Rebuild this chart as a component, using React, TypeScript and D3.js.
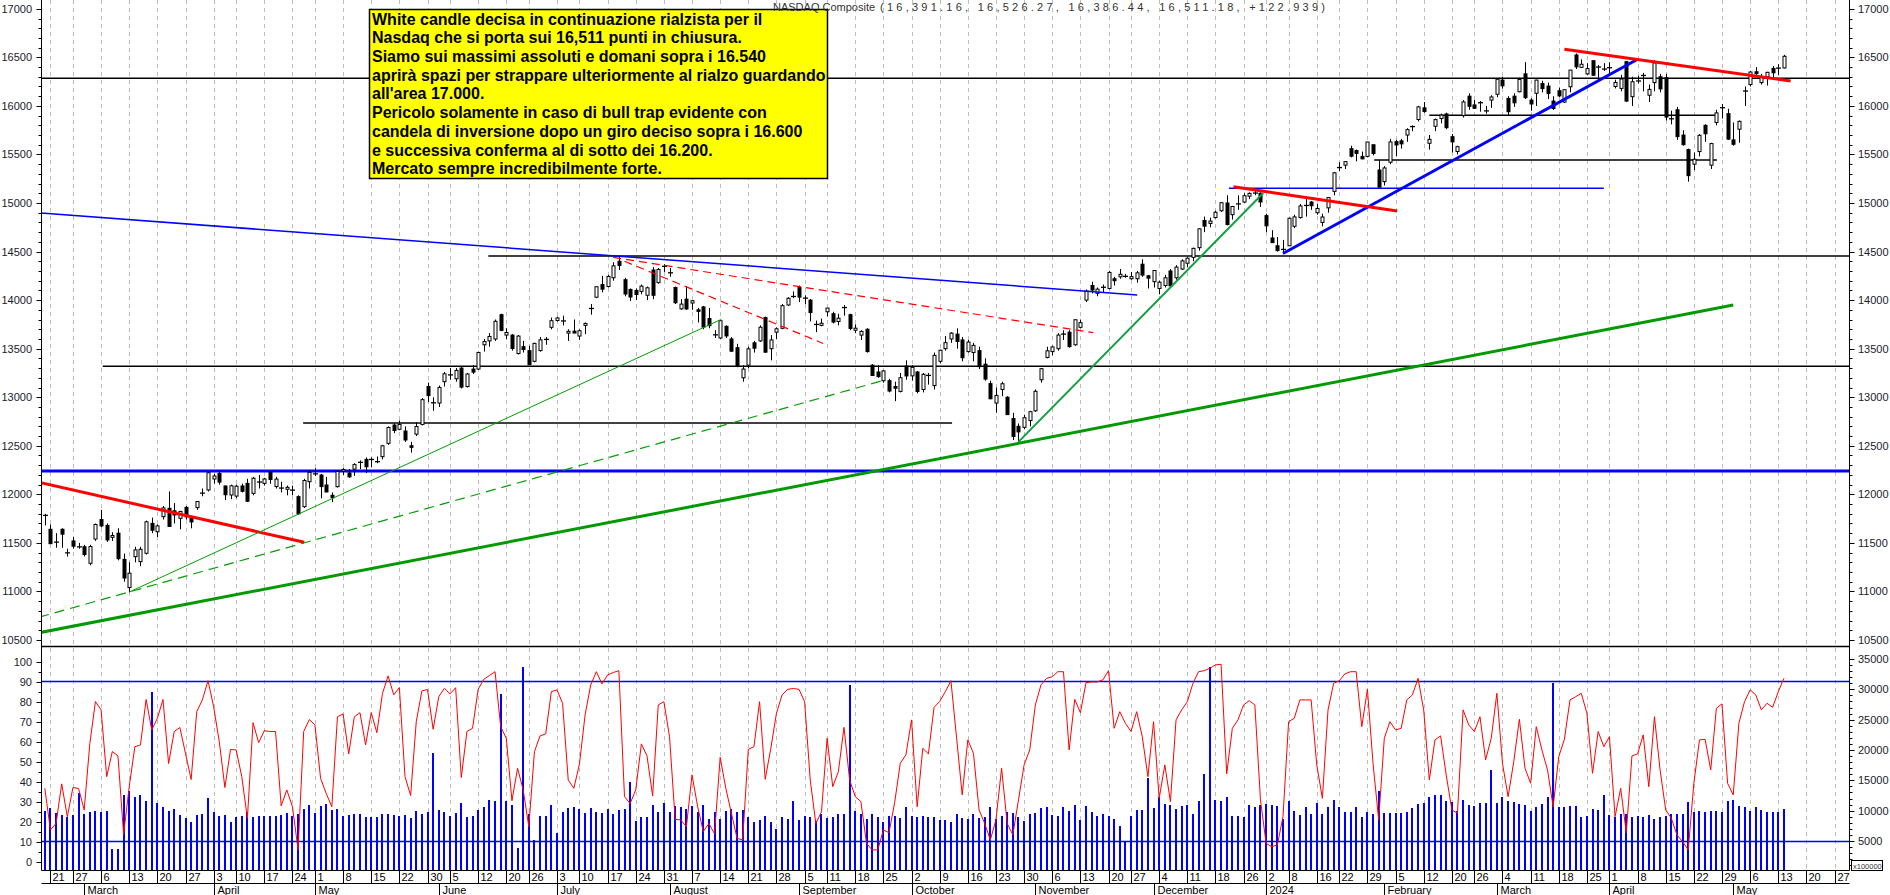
import React from 'react';
import * as d3 from 'd3';

// trading calendar
const firstDay = '2023-02-17';
const axisEndDay = '2024-05-31';
const holidays = ['2023-02-20', '2023-04-07', '2023-05-29', '2023-06-19', '2023-07-04', '2023-09-04',
  '2023-11-23', '2023-12-25', '2024-01-01', '2024-01-15', '2024-02-19', '2024-03-29'];
const missingDays = ['2023-04-26'];

// daily [open, high, low, close]
const feb23 = [
  [11780,11800,11680,11787],[11640,11690,11490,11492],[11510,11600,11450,11507],[11640,11650,11450,11590],
  [11400,11440,11360,11395],[11520,11560,11440,11466],[11460,11500,11440,11456]];
const mar23 = [
  [11460,11480,11360,11380],[11290,11480,11270,11462],[11540,11700,11520,11689],[11740,11840,11660,11675],
  [11680,11700,11510,11530],[11557,11610,11520,11576],[11600,11650,11320,11338],[11330,11390,11100,11138],
  [11040,11300,10990,11188],[11358,11460,11300,11428],[11307,11460,11260,11434],[11393,11730,11380,11717],
  [11701,11760,11600,11630],[11615,11690,11560,11675],[11770,11880,11740,11860],[11856,12030,11670,11670],
  [11830,11910,11700,11787],[11753,11830,11640,11824],[11866,11880,11740,11768],[11753,11760,11650,11716],
  [11863,11930,11840,11926],[12010,12060,11980,12013],[12045,12230,12030,12222]];
const apr23 = [
  [12158,12210,12110,12189],[12216,12240,12100,12126],[12086,12090,11940,11996],[11993,12100,11950,12088],
  [11982,12100,11960,12084],[12086,12110,12020,12031],[12113,12160,11920,11929],[12010,12180,11990,12166],
  [12130,12200,12060,12123],[12113,12170,12090,12158],[12233,12240,12110,12153],[12080,12180,12060,12157],
  [12070,12130,12020,12059],[12052,12090,11990,12072],[12050,12090,11990,12037],[11976,11990,11790,11799],
  [11873,12160,11860,12142],[12130,12250,12060,12227]];
const may23 = [
  [12210,12270,12190,12212],[12199,12210,11960,12080],[12096,12180,12020,12025],[11990,12020,11920,11966],
  [12079,12250,12070,12235],[12240,12270,12200,12256],[12220,12260,12170,12180],[12260,12320,12190,12306],
  [12330,12350,12260,12329],[12360,12380,12220,12284],[12353,12380,12280,12365],[12330,12390,12320,12343],
  [12388,12510,12360,12500],[12525,12700,12510,12688],[12714,12730,12630,12657],[12670,12760,12660,12720],
  [12652,12700,12540,12560],[12500,12540,12430,12484],[12620,12740,12600,12698],[12720,12990,12710,12975],
  [13110,13150,12950,13017],[12950,13000,12860,12935]];
const jun23 = [
  [12940,13120,12900,13101],[13160,13260,13110,13241],[13230,13300,13180,13230],[13190,13300,13160,13276],
  [13300,13310,13090,13104],[13110,13250,13100,13239],[13290,13330,13240,13259],[13290,13470,13280,13461],
  [13540,13600,13470,13573],[13580,13660,13520,13626],[13600,13800,13580,13782],[13850,13860,13680,13689],
  [13640,13710,13600,13667],[13640,13650,13480,13502],[13450,13640,13440,13630],[13520,13580,13460,13492],
  [13480,13530,13330,13335],[13370,13560,13360,13555],[13480,13620,13470,13591],[13600,13620,13540,13591],
  [13720,13820,13700,13788]];
const jul23 = [
  [13790,13830,13780,13816],[13780,13840,13740,13791],[13660,13700,13580,13679],[13680,13800,13660,13661],
  [13630,13700,13590,13685],[13740,13770,13650,13760],[13910,13960,13850,13918],[14030,14140,14020,14138],
  [14160,14250,14080,14113],[14140,14260,14130,14244],[14230,14390,14200,14353],[14400,14450,14310,14358],
  [14210,14230,14040,14063],[14110,14120,13990,14032],[14100,14120,14000,14058],[14090,14160,14060,14144],
  [14050,14140,14000,14127],[14310,14340,14010,14050],[14180,14330,14170,14316],[14350,14370,14290,14346]];
const aug23 = [
  [14280,14330,14240,14283],[14130,14140,13960,13973],[13910,14010,13900,13959],[14010,14140,13900,13909],
  [13970,14000,13900,13994],[13900,13920,13770,13884],[13930,13940,13700,13722],[13810,13920,13710,13737],
  [13640,13690,13610,13645],[13610,13790,13600,13788],[13730,13740,13610,13631],[13600,13620,13470,13474],
  [13510,13550,13310,13316],[13200,13330,13160,13290],[13330,13520,13300,13498],[13560,13580,13460,13505],
  [13580,13740,13570,13721],[13820,13830,13460,13464],[13500,13640,13380,13590],[13670,13720,13600,13705],
  [13710,13960,13700,13943],[13950,14030,13940,14019],[14040,14090,14020,14035]];
const sep23 = [
  [14130,14150,13980,14031],[14020,14050,13960,14021],[14000,14010,13780,13872],[13750,13790,13670,13749],
  [13740,13810,13730,13762],[13880,13920,13830,13918],[13860,13880,13760,13774],[13780,13860,13740,13814],
  [13920,13950,13840,13927],[13850,13860,13690,13709],[13690,13750,13660,13711],[13640,13690,13590,13678],
  [13700,13710,13460,13470],[13330,13340,13220,13224],[13260,13330,13200,13212],[13170,13280,13150,13271],
  [13170,13190,13050,13064],[13110,13160,12960,13093],[13060,13250,13050,13201],[13320,13380,13180,13219]];
const oct23 = [
  [13220,13330,13170,13308],[13260,13270,13040,13059],[13080,13250,13050,13236],[13230,13250,13130,13219],
  [13120,13460,13080,13431],[13370,13490,13350,13484],[13500,13630,13480,13562],[13600,13670,13560,13660],
  [13650,13710,13500,13575],[13590,13620,13370,13407],[13470,13590,13460,13568],[13460,13560,13370,13534],
  [13480,13520,13290,13315],[13340,13400,13170,13187],[13140,13170,12980,12984],[12940,13100,12840,13019],
  [13080,13160,13010,13139],[13000,13010,12820,12821],[12780,12840,12560,12596],[12700,12730,12540,12643],
  [12690,12820,12670,12789],[12760,12860,12700,12851]];
const nov23 = [
  [12860,13080,12850,13061],[13180,13300,13150,13294],[13410,13520,13400,13478],[13470,13530,13430,13518],
  [13500,13660,13480,13640],[13650,13690,13590,13650],[13670,13690,13510,13521],[13540,13800,13530,13798],
  [13720,13800,13710,13768],[14000,14110,13980,14094],[14150,14190,14070,14104],[14070,14130,14040,14113],
  [14140,14160,14080,14125],[14120,14300,14110,14285],[14220,14240,14150,14200],[14240,14320,14220,14266],
  [14240,14270,14230,14250],[14220,14290,14210,14242],[14220,14300,14180,14281],[14370,14420,14240,14258],
  [14250,14260,14120,14226]];
const dec23 = [
  [14190,14310,14130,14305],[14120,14200,14060,14185],[14150,14260,14130,14230],[14300,14320,14140,14147],
  [14230,14360,14210,14340],[14320,14420,14310,14404],[14380,14440,14340,14432],[14440,14540,14400,14533],
  [14540,14740,14510,14734],[14820,14860,14700,14762],[14790,14850,14750,14814],[14850,14920,14840,14905],
  [14920,15010,14910,15003],[15000,15080,14770,14778],[14880,14970,14830,14964],[14990,15080,14930,14992],
  [15010,15100,15000,15075],[15070,15110,15040,15099],[15110,15150,15080,15095],[15100,15110,14960,15011]];
const jan24 = [
  [14870,14890,14700,14765],[14640,14720,14590,14592],[14560,14650,14500,14510],[14520,14620,14480,14524],
  [14560,14850,14560,14843],[14760,14880,14740,14857],[14850,14990,14840,14970],[14980,15050,14860,14970],
  [15010,15020,14930,14972],[14900,14990,14880,14944],[14800,14890,14760,14856],[14950,15060,14900,15056],
  [15120,15320,15080,15311],[15370,15420,15330,15360],[15390,15430,15350,15426],[15560,15590,15470,15482],
  [15540,15550,15430,15511],[15480,15530,15450,15455],[15480,15630,15470,15628],[15600,15600,15490,15510],
  [15340,15440,15160,15164]];
const feb24 = [
  [15220,15380,15180,15361],[15420,15660,15400,15629],[15632,15650,15480,15598],[15640,15660,15560,15609],
  [15700,15770,15630,15756],[15780,15800,15740,15794],[15860,16000,15840,15990],[15980,16040,15930,15942],
  [15615,15700,15550,15656],[15790,15870,15740,15859],[15870,15920,15820,15906],[15917,15930,15760,15776],
  [15683,15710,15520,15630],[15530,15590,15500,15580],[15900,16060,15880,16041],[16100,16130,15960,15996],
  [16010,16060,15970,15976],[16030,16050,15940,16035],[15950,16000,15920,15948],[16060,16110,15980,16092]];
const mar24 = [
  [16120,16280,16090,16275],[16266,16300,16180,16207],[16077,16100,15900,15940],[16100,16130,15990,16032],
  [16146,16290,16140,16273],[16330,16450,16070,16085],[16060,16080,15950,16020],[16130,16270,16000,16266],
  [16230,16260,16140,16178],[16204,16240,16070,16129],[16050,16100,15960,15973],[16156,16190,16090,16103],
  [16040,16170,16030,16167],[16197,16370,16140,16369],[16524,16540,16380,16402],[16397,16480,16390,16429],
  [16330,16440,16320,16384],[16465,16470,16310,16316],[16400,16420,16290,16400],[16380,16440,16360,16379]];
const apr24 = [
  [16390,16450,16320,16397],[16200,16270,16180,16241],[16180,16320,16150,16277],[16455,16460,16040,16050],
  [16095,16300,16000,16249],[16260,16310,16230,16253],[16320,16340,16150,16307],[16110,16220,16040,16170],
  [16240,16470,16150,16443],[16300,16330,16140,16175],[16290,16330,15850,15885],[15870,15950,15810,15865],
  [15960,15990,15650,15684],[15700,15750,15590,15601],[15550,15560,15220,15282],[15400,15520,15340,15451],
  [15530,15710,15480,15697],[15800,15810,15630,15713],[15390,15620,15350,15612],[15830,15960,15800,15928],
  [15980,16020,15870,15983],[15920,15970,15650,15658]];
const may24 = [
  [15650,15830,15590,15605],[15760,15850,15620,15841],[16150,16200,16000,16156],[16220,16360,16200,16349],
  [16352,16400,16310,16333],[16240,16330,16220,16302],[16300,16350,16210,16346],[16386,16410,16280,16341],
  [16390,16430,16320,16388],[16391,16526,16386,16511]];

const candles = [...feb23, ...mar23, ...apr23, ...may23, ...jun23, ...jul23, ...aug23, ...sep23,
  ...oct23, ...nov23, ...dec23, ...jan24, ...feb24, ...mar24, ...apr24, ...may24];

// volume (x100000)
const volumes = [
  9880,10440,9620,9340,9010,9290,12840,9450,9830,9880,
  9830,10000,3610,3610,12620,13280,12180,12620,11640,29560,
  11200,10650,9880,10270,9340,8800,8080,9340,9450,12020,
  9720,9070,9290,8080,8900,9180,9720,8900,9180,9180,
  9180,9180,9290,9620,9180,9450,10270,11000,9560,10820,
  11090,10110,10270,9180,9340,9450,9450,8900,8900,8900,
  9450,9450,9340,9180,9340,8800,10000,9450,9830,19560,
  10110,9720,9180,9620,11250,9010,9180,10110,10540,11800,
  11530,29230,11640,11000,3820,33760,9450,5190,9180,9070,
  11000,6280,9720,10440,10540,10270,9620,10380,9720,9560,
  10270,9450,10110,10270,14750,8360,8900,9010,11000,9720,
  11200,9720,10820,10540,10270,10820,9720,10930,8630,9720,
  8630,10000,10270,9830,10110,8900,8200,8470,9180,8080,
  6990,9010,8630,11640,8470,9180,8900,8250,9450,8800,
  8900,9450,9450,30650,10000,9450,8630,9450,8900,8080,
  9070,9180,8800,10540,9180,8900,9070,8900,8900,8470,
  8470,8200,9450,8740,8630,9450,8800,9010,10650,8630,
  9070,9830,9620,8900,8360,9450,9620,10440,10540,9340,
  9070,10650,10000,10930,8520,10820,9720,9070,9450,9180,
  8630,7540,5000,9070,10160,10160,15460,10500,12180,11090,
  10930,10270,10820,10930,9450,11640,16010,33600,11800,11640,
  12180,9180,9180,9000,10930,10540,10930,11090,10930,10820,
  8630,11640,10000,9340,10540,9450,11200,9450,10540,11800,
  10540,9720,9720,10540,8900,9720,9450,13280,9560,9560,
  9560,9560,9720,10440,11090,11200,12180,12620,12620,11640,
  11360,10000,11800,10930,10820,11200,11200,16720,11200,12180,
  11640,11360,11090,10930,10000,10540,11090,12180,31030,10540,
  10650,10820,10820,8900,9070,10270,10160,12620,9290,8900,
  9450,9450,9010,9180,8900,9290,8630,8900,9180,9450,
  9450,9450,11360,9720,10000,9720,10000,10000,9720,11640,
  11750,10820,10540,10000,10540,10110,9830,9830,9830,10270];

// oscillator (0-100)
const oscillator = [
  36.6,15.8,19,38.8,22.4,37,36.5,25.8,59,80,
  75.8,42.4,55,52.8,13.6,37.4,57.4,58.3,81,65.8,
  71.6,81,49,65,67,54,41,74.9,80.8,90.4,
  77.4,60,37,56,55.8,42.4,21.6,69.4,59.4,65.4,
  65,65,27.8,35.8,27.4,6,65,71,68.3,41.6,
  34,27.4,72.4,73.8,53.8,72.4,74.4,58.3,74.4,64.4,
  84.1,92.8,83.3,87,42.4,33,69.9,85.3,86,66.1,
  82.4,86.6,83.8,86.9,42,65,66.6,86.1,91.1,93,
  94.9,67.4,61.6,30.4,46.6,35.8,17.4,55,62.8,63.8,
  84.9,85.8,79.1,40.8,36.6,48.8,73.3,88.3,94.9,88.8,
  93.3,94.5,95.4,32.4,29,35.8,58.8,52.8,32.8,78.3,
  79.9,62.4,21.1,20.8,17.4,43.3,27.4,15,19,13.8,
  52.1,36.6,24.1,11.6,10.8,56.1,57.4,79.9,41.1,56.6,
  74.1,83.3,86.1,86.5,86.1,79.9,40.8,19,24.9,61.6,
  37.4,44.9,67.1,40.8,32.4,30,9.1,5.8,5.8,15.8,
  14.4,29.4,49.1,53.3,70.8,27.4,56.6,53.8,77.1,80,
  84.9,90.4,62,33.3,60.8,54.1,25.8,19,10.8,20.8,
  46.6,19,13.3,30.8,48.3,55.8,78.3,88.3,91.6,92.4,
  94.9,94.9,55.8,81.1,74.4,89.4,89.8,89.8,90.8,95.4,
  66.6,74.9,69.1,65,74.9,62.4,42.4,69.9,31.6,48.3,
  29.9,70.8,75.8,79.9,89.1,94.9,95.4,96.6,98.3,98.6,
  43.8,66.6,70.8,78.3,80.4,78.3,30.8,9.1,7.4,8.3,
  22.4,69.9,71.6,80.8,80.8,80.8,48.3,31.6,75.8,89.1,
  90.4,93.8,94.9,94.9,67.4,86.1,49,20.8,61.6,69.9,
  65.8,66.6,80.8,83.3,91.6,75.8,40.8,60.8,62.8,43.3,
  25.8,24.1,75.8,68.3,65,72.4,50.8,61.6,84.1,49,
  32.4,49.9,71.1,46.6,39.1,67.4,55.8,45.8,27.4,52.4,
  61.1,80.8,82.4,84.1,74.1,44.1,65,57.4,62.4,22.4,
  36.6,14.4,52.8,53.8,63.3,37.4,72.4,45.8,25.8,21.6,
  13.3,9.9,5.8,39.1,60.8,61.1,45.8,76.6,78.8,39.1,
  33.3,69.1,79.9,85.8,83.3,75.8,79.1,77.1,84.9,91.6];

// horizontal levels (price) and trend lines ([bar index, price])
const levels = [
  { kind: 'black', price: 16285, from: null, to: null },
  { kind: 'black', price: 14455, from: 78.8, to: null },
  { kind: 'black', price: 13320, from: 10.3, to: null },
  { kind: 'black', price: 12735, from: 45.9, to: 161.2 },
  { kind: 'blueThick', price: 12240, from: null, to: null },
  { kind: 'black', price: 15905, from: 246, to: 297.1 },
  { kind: 'black', price: 15443, from: 236.2, to: 297.1 },
  { kind: 'blueThin', price: 15152, from: 210.4, to: 277 },
];
const trendLines = [
  { kind: 'blueThin', from: [-1, 14898], to: [194.1, 14053] },
  { kind: 'redThick', from: [-1, 12124], to: [46.1, 11506] },
  { kind: 'greenThin', from: [15, 10994], to: [120.2, 13802] },
  { kind: 'greenDash', from: [-1, 10735], to: [149.5, 13181] },
  { kind: 'greenThick', from: [-1, 10575], to: [300, 13949] },
  { kind: 'greenMid', from: [173, 12540], to: [216.5, 15103] },
  { kind: 'blueThick', from: [220, 14480], to: [283, 16480] },
  { kind: 'redThick', from: [211.2, 15167], to: [240.3, 14918] },
  { kind: 'redThick', from: [270, 16583], to: [310.2, 16257] },
  { kind: 'redDash', from: [101, 14440], to: [186.3, 13665] },
  { kind: 'redDash', from: [103, 14400], to: [138.3, 13554] },
];

const noteLines = [
  'White candle decisa in continuazione rialzista per il',
  'Nasdaq che si porta sui 16,511 punti in chiusura.',
  'Siamo sui massimi assoluti e domani sopra i 16.540',
  'aprirà spazi per strappare ulteriormente al rialzo guardando',
  "all'area 17.000.",
  'Pericolo solamente in caso di bull trap evidente con',
  'candela di inversione dopo un giro deciso sopra i 16.600',
  'e successiva conferma al di sotto dei 16.200.',
  'Mercato sempre incredibilmente forte.',
];
const headerName = 'NASDAQ Composite';
const headerValues = '(16,391.16, 16,526.27, 16,386.44, 16,511.18, +122.939)';

const priceTicks = d3.range(10500, 17001, 500);
const oscTicks = d3.range(0, 101, 10);
const volTicks = d3.range(5000, 35001, 5000);

const styles: Record<string, any> = {
  black: { stroke: '#000', strokeWidth: 1.5 },
  blueThick: { stroke: '#0000ff', strokeWidth: 3 },
  blueThin: { stroke: '#0000ff', strokeWidth: 1.5 },
  redThick: { stroke: '#ff0000', strokeWidth: 3 },
  redDash: { stroke: '#ff0000', strokeWidth: 1.2, strokeDasharray: '8,5' },
  greenThin: { stroke: '#00a000', strokeWidth: 1 },
  greenDash: { stroke: '#00a000', strokeWidth: 1.2, strokeDasharray: '10,6' },
  greenThick: { stroke: '#009a00', strokeWidth: 3 },
  greenMid: { stroke: '#10a040', strokeWidth: 2 },
};

const font = 'Liberation Sans, Arial, sans-serif';
const L = 41.5, R = 1849.5, PB = 646.5, BOT = 870.5;

export default function App() {
  const parse = d3.utcParse('%Y-%m-%d');
  const fmt = d3.utcFormat('%Y-%m-%d');
  const days = d3.utcDay.range(parse(firstDay)!, d3.utcDay.offset(parse(axisEndDay)!, 1))
    .filter(d => d.getUTCDay() % 6 !== 0 && !holidays.includes(fmt(d)) && !missingDays.includes(fmt(d)));

  const last = candles.length - 1;
  const x = d3.scaleLinear().domain([0, last]).range([44.8, 1783.9]);
  const yP = d3.scaleLinear().domain([10500, 17000]).range([640, 8.8]);
  const yO = d3.scaleLinear().domain([0, 100]).range([861.5, 661.5]);
  const yV = d3.scaleLinear().domain([0, 35000]).range([871.3, 659]);

  const weekTicks: number[] = [];
  const monthTicks: number[] = [];
  days.forEach((d, i) => {
    if (i === 0 || x(i) > R) return;
    if (+d3.utcMonday.floor(d) !== +d3.utcMonday.floor(days[i - 1])) weekTicks.push(i);
    if (d.getUTCMonth() !== days[i - 1].getUTCMonth()) monthTicks.push(i);
  });
  const monthName = (d: Date) => d.getUTCMonth() === 0 ? String(d.getUTCFullYear()) : d3.utcFormat('%B')(d);

  const oscLine = d3.line<number>().x((_, i) => x(i)).y(v => yO(v))(oscillator) || '';
  const px = (v: number) => Math.round(v) + 0.5;

  return (
    <div style={{ position: 'absolute', left: 0, top: 0 }}>
      <svg width={1890} height={895} style={{ display: 'block', background: '#fff' }} fontFamily={font}>
        <defs>
          <clipPath id="pclip"><rect x={L} y={0} width={R - L} height={PB} /></clipPath>
          <clipPath id="lclip"><rect x={L} y={PB} width={R - L} height={BOT - PB} /></clipPath>
        </defs>

        {/* grid */}
        {weekTicks.map(i => (
          <line key={'g' + i} x1={px(x(i))} x2={px(x(i))} y1={0} y2={BOT} stroke="#bdbdbd" strokeDasharray="4,4" />
        ))}

        {/* price panel */}
        <g clipPath="url(#pclip)">
          {levels.map((l, k) => (
            <line key={'lv' + k} x1={l.from == null ? L : x(l.from)} x2={l.to == null ? R : x(l.to)}
              y1={yP(l.price)} y2={yP(l.price)} {...styles[l.kind]} />
          ))}
          {candles.map(([o, h, l, c], i) => {
            const cx = px(x(i));
            const yt = yP(Math.max(o, c)), yb = yP(Math.min(o, c));
            return (
              <g key={'c' + i}>
                <line x1={cx} x2={cx} y1={yP(h)} y2={yP(l)} stroke="#000" />
                {yb - yt < 1.5
                  ? <line x1={cx - 2.5} x2={cx + 2.5} y1={(yt + yb) / 2} y2={(yt + yb) / 2} stroke="#000" strokeWidth={1.3} />
                  : <rect x={cx - 1.5} y={yt} width={3} height={yb - yt} fill={c >= o ? '#fff' : '#000'} stroke="#000" />}
              </g>
            );
          })}
          {trendLines.map((t, k) => (
            <line key={'t' + k} x1={x(t.from[0])} y1={yP(t.from[1])} x2={x(t.to[0])} y2={yP(t.to[1])} {...styles[t.kind]} />
          ))}
        </g>

        {/* lower panel */}
        <g clipPath="url(#lclip)">
          {volumes.map((v, i) => (
            <rect key={'v' + i} x={Math.round(x(i)) - 1} y={Math.round(yV(v))} width={2}
              height={Math.round(yV(0)) - Math.round(yV(v))} fill="#0000ff" shapeRendering="crispEdges" />
          ))}
          <line x1={L} x2={R} y1={yO(90)} y2={yO(90)} stroke="#0000ff" strokeWidth={1.5} />
          <line x1={L} x2={R} y1={yO(10)} y2={yO(10)} stroke="#0000ff" strokeWidth={1.5} />
          <path d={oscLine} fill="none" stroke="#ff0000" strokeWidth={1} />
        </g>

        {/* frame */}
        <line x1={L} x2={L} y1={0} y2={BOT} stroke="#000" />
        <line x1={R} x2={R} y1={0} y2={BOT} stroke="#000" />
        <line x1={L} x2={R} y1={PB} y2={PB} stroke="#000" strokeWidth={1.5} />
        <line x1={L} x2={R} y1={BOT} y2={BOT} stroke="#000" />
        <line x1={L} x2={R} y1={883.5} y2={883.5} stroke="#000" />

        {/* price axes */}
        {d3.range(10500, 17001, 100).map(p => {
          const major = p % 500 === 0;
          const y = px(yP(p));
          return (
            <g key={'pt' + p}>
              <line x1={L - (major ? 5 : 3)} x2={L} y1={y} y2={y} stroke="#000" />
              <line x1={R} x2={R + (major ? 5 : 3)} y1={y} y2={y} stroke="#000" />
            </g>
          );
        })}
        {priceTicks.map(p => (
          <g key={'pl' + p} fontSize={11} fill="#1a1a2a">
            <text x={32} y={yP(p) + 4} textAnchor="end">{p}</text>
            <text x={1858} y={yP(p) + 4}>{p}</text>
          </g>
        ))}

        {/* lower axes */}
        {d3.range(0, 101, 5).map(v => {
          const y = px(yO(v));
          return <line key={'ot' + v} x1={L - (v % 10 === 0 ? 5 : 3)} x2={L} y1={y} y2={y} stroke="#000" />;
        })}
        {oscTicks.map(v => (
          <text key={'ol' + v} x={32} y={yO(v) + 4} textAnchor="end" fontSize={11} fill="#1a1a2a">{v}</text>
        ))}
        {d3.range(1000, 35001, 1000).map(v => {
          const y = px(yV(v));
          return <line key={'vt' + v} x1={R} x2={R + (v % 5000 === 0 ? 5 : 3)} y1={y} y2={y} stroke="#000" />;
        })}
        {volTicks.map(v => (
          <text key={'vl' + v} x={1858} y={yV(v) + 4} fontSize={11} fill="#1a1a2a">{v}</text>
        ))}
        <rect x={1851.5} y={860.5} width={31} height={10} fill="#fff" stroke="#000" />
        <text x={1853} y={868.5} fontSize={7.5} fill="#333">x100000</text>

        {/* time axis */}
        {weekTicks.map(i => (
          <g key={'w' + i}>
            <line x1={px(x(i))} x2={px(x(i))} y1={BOT} y2={883.5} stroke="#000" />
            <text x={px(x(i)) + 2} y={881} fontSize={11} fill="#000">{d3.utcFormat('%-d')(days[i])}</text>
          </g>
        ))}
        {monthTicks.map(i => (
          <g key={'m' + i}>
            <line x1={px(x(i))} x2={px(x(i))} y1={883.5} y2={895} stroke="#000" />
            <text x={px(x(i)) + 3} y={894} fontSize={11} fill="#000">{monthName(days[i])}</text>
          </g>
        ))}

        {/* note */}
        <rect x={369.5} y={9.5} width={458} height={169} fill="#ffff00" stroke="#000" strokeWidth={1.5} />
        {noteLines.map((t, k) => (
          <text key={'n' + k} x={372} y={24.5 + k * 18.72} fontSize={16} fontWeight="bold" fill="#000">{t}</text>
        ))}
        <text x={773} y={11} fontSize={11} fill="#333">{headerName}</text>
        <text x={880} y={11} fontSize={11} fill="#333" textLength={445} lengthAdjust="spacing">{headerValues}</text>
      </svg>
    </div>
  );
}
